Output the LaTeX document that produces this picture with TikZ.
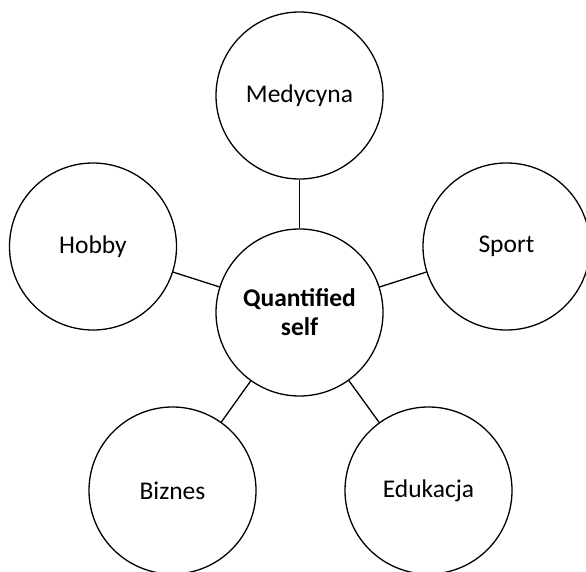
\documentclass[tikz,border=0pt]{standalone}
\usepackage{fontspec}
\setmainfont{Carlito}
\begin{document}
\begin{tikzpicture}[x=1pt,y=-1pt,
  bubble/.style={circle,draw=black,line width=1.3pt,minimum size=167pt,inner sep=0pt,align=center,font=\fontsize{25.5}{29}\selectfont,fill=white},
  link/.style={draw=black,line width=1.3pt}]
\useasboundingbox (0,0) rectangle (586,572);
\node[bubble] (c) at (299.5,312.5) {\textbf{Quantified}\\\textbf{self}};
\node[bubble] (m) at (299.5,95.5) {Medycyna};
\node[bubble] (s) at (506.5,246.5) {Sport};
\node[bubble] (h) at (93,246.5) {Hobby};
\node[bubble] (b) at (172.5,490.5) {Biznes};
\node[bubble] (e) at (428.5,490.5) {Edukacja};
\foreach \n in {m,s,h,b,e} \draw[link] (c) -- (\n);
\end{tikzpicture}
\end{document}
